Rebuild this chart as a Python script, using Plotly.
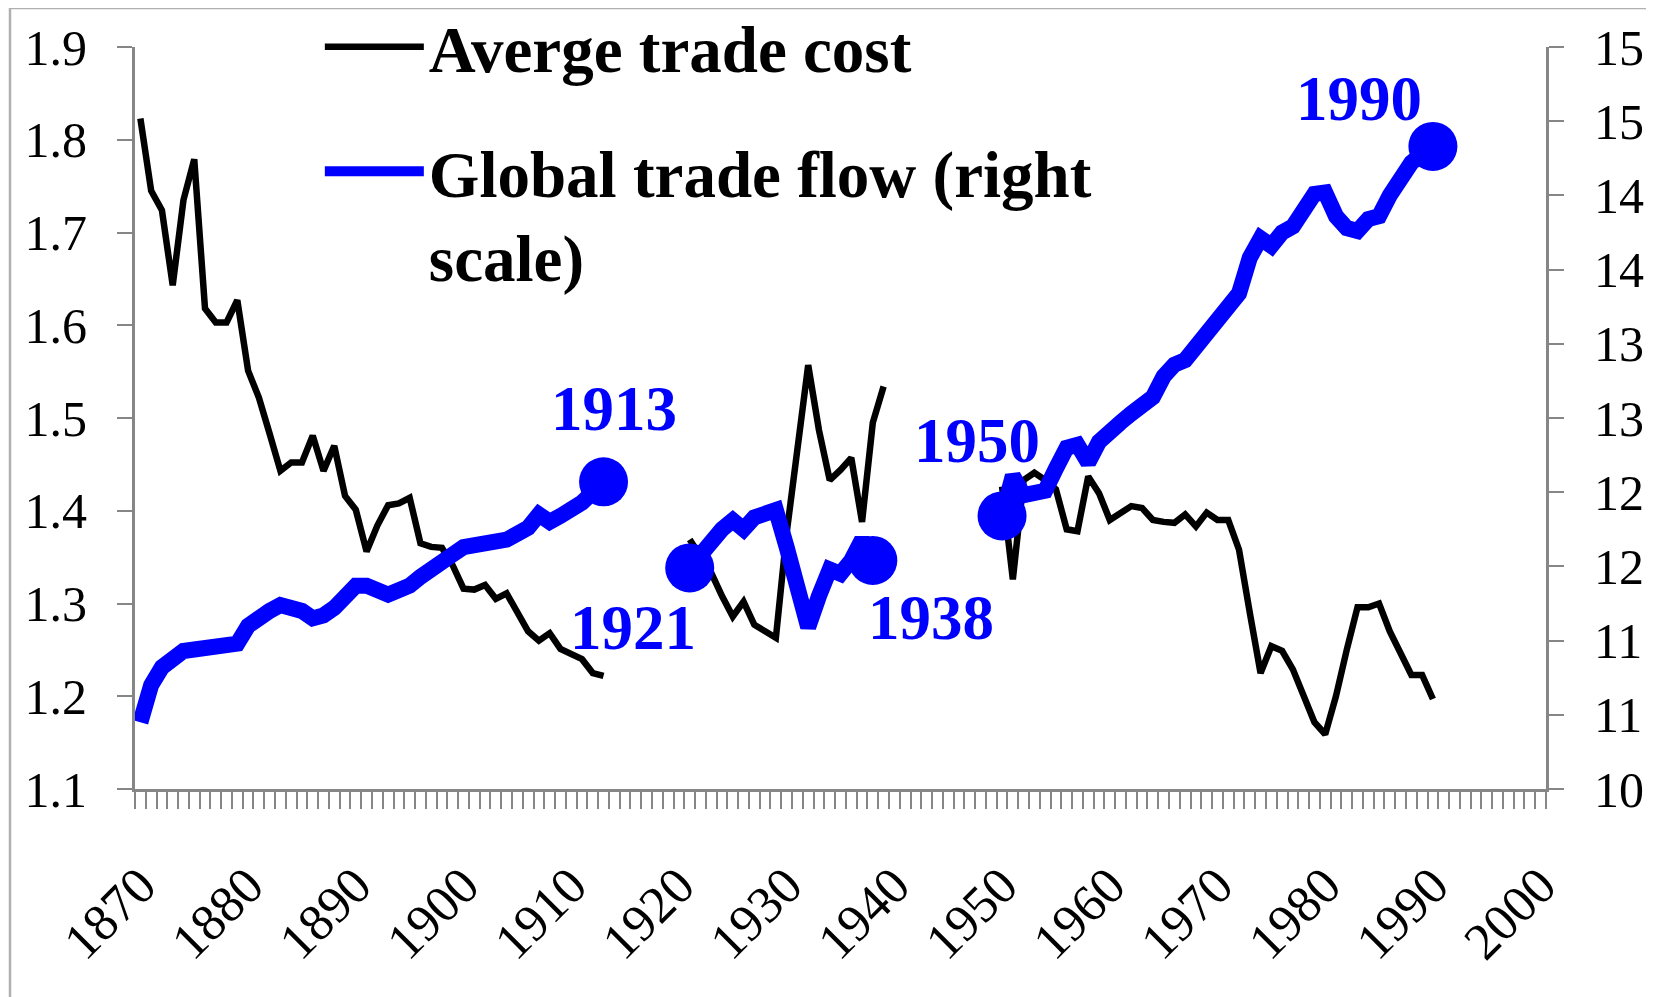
import math
import plotly.graph_objects as go

# ---------------- data ----------------
years = list(range(1870, 1991))

cost_start_a = 1870
cost_a = [1.823, 1.745, 1.724, 1.643, 1.735, 1.779, 1.618, 1.603, 1.603, 1.627,
          1.551, 1.522, 1.483, 1.443, 1.452, 1.452, 1.481, 1.443, 1.470, 1.416,
          1.401, 1.356, 1.384, 1.406, 1.408, 1.414, 1.365, 1.361, 1.360, 1.341,
          1.316, 1.315, 1.320, 1.305, 1.311, 1.292, 1.270, 1.260, 1.268, 1.251,
          1.245, 1.240, 1.225, 1.222]
cost_start_b = 1921
cost_b = [1.369, 1.351, 1.333, 1.308, 1.286, 1.302, 1.277, 1.270, 1.263, 1.376,
          1.469, 1.557, 1.487, 1.433, 1.444, 1.457, 1.388, 1.495, 1.534]
cost_start_c = 1950
cost_c = [1.426, 1.326, 1.433, 1.441, 1.433, 1.423, 1.380, 1.378, 1.437, 1.419,
          1.390, 1.397, 1.405, 1.403, 1.390, 1.388, 1.387, 1.396, 1.383, 1.398,
          1.390, 1.390, 1.358, 1.290, 1.225, 1.254, 1.249, 1.229, 1.200, 1.172,
          1.159, 1.200, 1.250, 1.296, 1.296, 1.300, 1.270, 1.247, 1.223, 1.223,
          1.197]

flow_start_a = 1870
flow_a = [10.45, 10.70, 10.82, 10.89, 10.93, 10.94, 10.95, 10.97, 10.99, 10.98,
          11.10, 11.16, 11.20, 11.24, 11.22, 11.20, 11.15, 11.17, 11.22, 11.30,
          11.37, 11.37, 11.35, 11.31, 11.34, 11.37, 11.43, 11.47, 11.52, 11.58,
          11.63, 11.64, 11.64, 11.65, 11.68, 11.72, 11.76, 11.85, 11.80, 11.84,
          11.88, 11.93, 12.00, 12.07]
flow_start_b = 1921
flow_b = [11.49, 11.59, 11.68, 11.75, 11.81, 11.75, 11.83, 11.86, 11.88, 11.63,
          11.34, 11.09, 11.30, 11.48, 11.45, 11.54, 11.68, 11.54]
flow_start_c = 1950
flow_c = [11.84, 12.11, 11.98, 11.99, 12.01, 12.16, 12.30, 12.32, 12.20, 12.34,
          12.42, 12.47, 12.53, 12.60, 12.64, 12.78, 12.86, 12.89, 12.98, 13.07,
          13.14, 13.21, 13.34, 13.58, 13.71, 13.66, 13.75, 13.79, 13.90, 14.01,
          14.02, 13.86, 13.78, 13.76, 13.84, 13.86, 14.00, 14.11, 14.22, 14.28,
          14.33]

marker_years = [1913, 1921, 1938, 1950, 1990]

left_ticks = [1.1, 1.2, 1.3, 1.4, 1.5, 1.6, 1.7, 1.8, 1.9]
right_ticks = [10, 10.5, 11, 11.5, 12, 12.5, 13, 13.5, 14, 14.5, 15]
x_label_years = list(range(1870, 2001, 10))

cost_name = "Averge trade cost"
flow_name = "Global trade flow (right<br>scale)"

# ---------------- build series ----------------
def merge(segments):
    d = {}
    for start, vals in segments:
        for i, v in enumerate(vals):
            d[start + i] = v
    return [d.get(y) for y in years], d

cost, cost_d = merge([(cost_start_a, cost_a), (cost_start_b, cost_b), (cost_start_c, cost_c)])
flow, flow_d = merge([(flow_start_a, flow_a), (flow_start_b, flow_b), (flow_start_c, flow_c)])
marker_vals = [flow_d[y] for y in marker_years]

# label offsets (pixels) relative to marker
label_shift = {1913: (10, -73), 1921: (-57, 60), 1938: (58, 58), 1950: (-25, -75), 1990: (-74, -47)}

FONT = "Liberation Serif"
BLUE = "#0000FF"
GRAY = "#868686"

# page body has an 8px margin: figure is shifted accordingly
W, H = 1646, 989
L, T = 127, 39
PW, PH = 1411, 742

fig = go.Figure()
fig.add_trace(go.Scatter(x=years, y=cost, mode="lines", name=cost_name,
                         line=dict(color="black", width=6.5), connectgaps=False,
                         yaxis="y", legendgroup="a"))
fig.add_trace(go.Scatter(x=years, y=flow, mode="lines", name=flow_name,
                         line=dict(color=BLUE, width=16), connectgaps=False,
                         yaxis="y2", legendgroup="b"))
fig.add_trace(go.Scatter(x=marker_years, y=marker_vals, mode="markers",
                         marker=dict(size=49, color=BLUE), yaxis="y2",
                         showlegend=False, hoverinfo="skip"))

for yr, v in zip(marker_years, marker_vals):
    dx, dy = label_shift[yr]
    fig.add_annotation(x=yr, y=v, xref="x", yref="y2", text=str(yr), showarrow=False,
                       xshift=dx, yshift=-dy,
                       font=dict(family=FONT, size=63, color=BLUE, weight="bold"))

right_text = [str(int(math.floor(v + 0.5))) for v in right_ticks]

fig.update_layout(
    width=W, height=H,
    margin=dict(l=L, r=W - L - PW, t=T, b=H - T - PH, autoexpand=False),
    paper_bgcolor="white", plot_bgcolor="white",
    font=dict(family=FONT, size=50, color="black"),
    showlegend=True,
    legend=dict(x=0.131, y=1.066, xanchor="left", yanchor="top",
                font=dict(family=FONT, size=65, color="black", weight="bold"),
                bgcolor="rgba(0,0,0,0)", itemwidth=99, valign="top",
                tracegroupgap=37),
    xaxis=dict(range=[1869.5, 2000.5], tickvals=x_label_years,
               ticktext=[str(v) for v in x_label_years], tickangle=-45,
               ticks="outside", ticklen=17, tickcolor="rgba(0,0,0,0)",
               showline=True, linecolor=GRAY, linewidth=3, showgrid=False,
               zeroline=False, ticklabelstandoff=25,
               minor=dict(tickvals=[y + 0.5 for y in range(1869, 2001)], ticks="outside",
                          ticklen=17, tickcolor=GRAY, tickwidth=2, showgrid=False),
               tickfont=dict(family=FONT, size=52, color="black")),
    yaxis=dict(range=[1.1, 1.9], tickvals=left_ticks,
               ticktext=[f"{v:.1f}" for v in left_ticks],
               ticks="outside", ticklen=15, tickcolor=GRAY, tickwidth=2,
               showline=True, linecolor=GRAY, linewidth=3, showgrid=False,
               zeroline=False, ticklabelstandoff=20,
               tickfont=dict(family=FONT, size=50, color="black")),
    yaxis2=dict(range=[10, 15], overlaying="y", side="right", tickvals=right_ticks,
                ticktext=right_text, ticks="outside", ticklen=15, tickcolor=GRAY,
                tickwidth=2, showline=True, linecolor=GRAY, linewidth=3,
                showgrid=False, zeroline=False, ticklabelstandoff=20,
                tickfont=dict(family=FONT, size=50, color="black")),
)

# outer chart border (top-left corner visible, rest runs off the page)
fig.add_shape(type="rect", xref="paper", yref="paper",
              x0=(2 - L) / PW, x1=1.2, y0=-0.5, y1=1 + (T - 0) / PH,
              line=dict(color="#b0b0b0", width=2.5), fillcolor="rgba(0,0,0,0)", layer="below")

fig.write_html("out.html")
